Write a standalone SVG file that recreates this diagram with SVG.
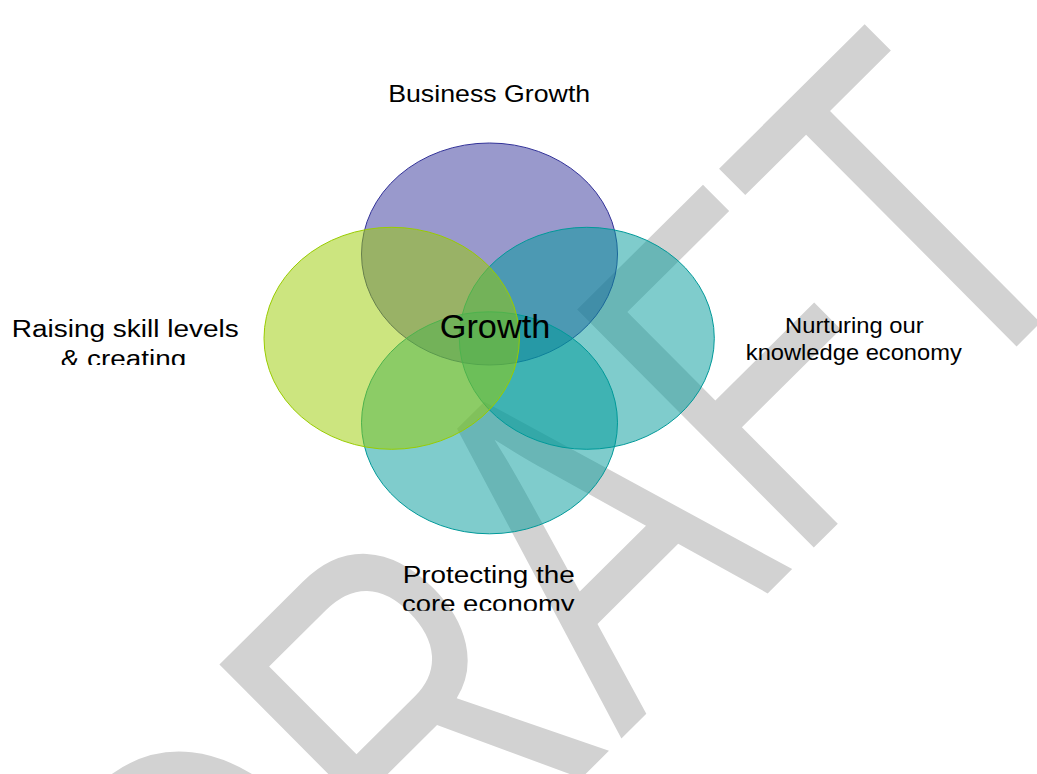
<svg xmlns="http://www.w3.org/2000/svg" width="1037" height="774" viewBox="0 0 1037 774">
  <defs>
    <style>
      .lbl { font-family: "Liberation Sans", Arial, sans-serif; fill: #000000; text-anchor: middle; }
      .wm { font-family: "Liberation Sans", Arial, sans-serif; fill: #d2d2d2; }
      .purple { fill: #333399; fill-opacity: 0.5; stroke: #333399; stroke-width: 1; }
      .teal { fill: #009999; fill-opacity: 0.5; stroke: #009999; stroke-width: 1; }
      .green { fill: #99cc00; fill-opacity: 0.5; stroke: #99cc00; stroke-width: 1; }
    </style>
    <clipPath id="clipLeft"><rect x="0" y="300" width="260" height="65"/></clipPath>
    <clipPath id="clipBottom"><rect x="380" y="545" width="220" height="65.7"/></clipPath>
  </defs>
  <rect width="1037" height="774" fill="#ffffff"/>
  <g id="watermark">
    <text class="wm" font-size="100" transform="matrix(2.575 -2.555 3.44 3.46 249 1108)">DRAFT</text>
  </g>
  <g id="connectors"/>
  <g id="node-business-growth">
    <ellipse class="purple" cx="489.5" cy="254" rx="128" ry="111"/>
    <text class="lbl" x="489.2" y="101.7" font-size="24.3" textLength="202" lengthAdjust="spacingAndGlyphs">Business Growth</text>
  </g>
  <g id="node-knowledge-economy">
    <ellipse class="teal" cx="586.8" cy="338.3" rx="127.5" ry="111"/>
    <text class="lbl" x="854.3" y="333.3" font-size="22.3" textLength="138.5" lengthAdjust="spacingAndGlyphs">Nurturing our</text>
    <text class="lbl" x="853.8" y="360" font-size="22.3" textLength="216" lengthAdjust="spacingAndGlyphs">knowledge economy</text>
  </g>
  <g id="node-core-economy">
    <ellipse class="teal" cx="489.5" cy="422.8" rx="128" ry="111"/>
    <g clip-path="url(#clipBottom)">
      <text class="lbl" x="488.7" y="582.7" font-size="24.7" textLength="172" lengthAdjust="spacingAndGlyphs">Protecting the</text>
      <text class="lbl" x="488.3" y="612" font-size="24.7" textLength="172.5" lengthAdjust="spacingAndGlyphs">core economy</text>
    </g>
  </g>
  <g id="node-skill-levels">
    <ellipse class="green" cx="391.7" cy="338.3" rx="127.7" ry="111"/>
    <g clip-path="url(#clipLeft)">
      <text class="lbl" x="125.3" y="336.7" font-size="24.7" textLength="227" lengthAdjust="spacingAndGlyphs">Raising skill levels</text>
      <text class="lbl" x="123.4" y="366.5" font-size="24.7" textLength="125.5" lengthAdjust="spacingAndGlyphs">&amp; creating</text>
    </g>
  </g>
  <g id="node-growth">
    <text class="lbl" x="495" y="338.3" font-size="34" textLength="110.6" lengthAdjust="spacingAndGlyphs">Growth</text>
  </g>
</svg>
